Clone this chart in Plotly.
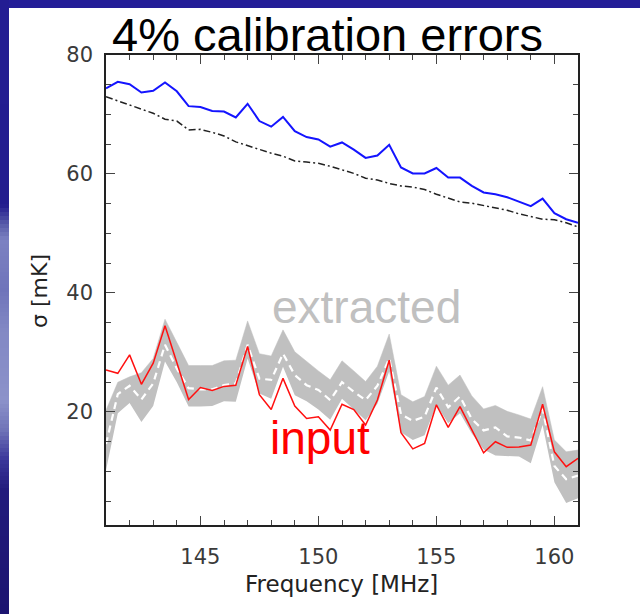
import plotly.graph_objects as go

# ---------------- data ----------------
freq = [141.0, 141.5, 142.0, 142.5, 143.0, 143.5, 144.0, 144.5, 145.0, 145.5,
        146.0, 146.5, 147.0, 147.5, 148.0, 148.5, 149.0, 149.5, 150.0, 150.5,
        151.0, 151.5, 152.0, 152.5, 153.0, 153.5, 154.0, 154.5, 155.0, 155.5,
        156.0, 156.5, 157.0, 157.5, 158.0, 158.5, 159.0, 159.5, 160.0, 160.5,
        161.0]

total_blue = [74.4, 75.5, 75.1, 73.7, 74.0, 75.4, 73.9, 71.4, 71.25, 70.6,
              70.5, 69.5, 71.8, 68.9, 67.95, 69.6, 67.2, 66.2, 65.8, 64.6,
              65.3, 64.1, 62.7, 63.1, 64.9, 61.1, 60.1, 60.1, 61.0, 59.4,
              59.4, 58.0, 56.9, 56.6, 56.1, 55.3, 54.6, 55.85, 53.4, 52.4,
              51.8]

foreground_dashdot = [72.99, 72.3, 71.5, 70.9, 70.2, 69.2, 68.9, 67.4, 67.5, 67.0,
                      66.4, 65.4, 64.75, 64.2, 63.5, 63.0, 62.2, 62.0, 61.8, 61.3,
                      60.75, 60.1, 59.3, 59.0, 58.4, 58.0, 57.8, 57.4, 56.6, 56.0,
                      55.3, 55.1, 54.7, 54.2, 53.9, 53.3, 52.8, 52.4, 52.3, 51.8,
                      51.1]

input_red = [27.05, 26.5, 29.6, 24.65, 28.2, 34.5, 28.3, 22.1, 24.1, 23.6,
             24.3, 24.5, 31.0, 22.9, 20.4, 25.65, 21.0, 18.9, 19.2, 16.95,
             21.3, 20.4, 17.8, 22.0, 28.7, 16.5, 13.8, 14.7, 21.2, 17.4,
             20.9, 17.0, 13.15, 15.0, 14.05, 14.1, 14.45, 21.3, 13.3, 10.8,
             12.2]

extracted_upper = [20.3, 25.0, 25.9, 26.6, 29.0, 35.6, 31.7, 27.8, 27.8, 27.8,
                   28.6, 28.7, 35.3, 29.8, 29.4, 33.8, 30.1, 28.45, 26.9, 25.4,
                   28.6, 26.9, 25.1, 27.7, 33.1, 22.9, 21.7, 22.6, 27.7, 24.5,
                   26.2, 22.7, 20.5, 21.1, 20.1, 19.5, 18.8, 24.25, 15.3, 13.3,
                   13.6]

extracted_lower = [10.2, 19.8, 21.5, 18.3, 21.0, 28.5, 25.0, 20.9, 20.9, 21.0,
                   21.8, 21.7, 29.0, 23.1, 22.2, 27.6, 22.8, 21.8, 20.4, 18.7,
                   22.2, 20.4, 18.6, 21.4, 26.8, 16.6, 15.3, 16.1, 21.2, 18.1,
                   19.8, 16.4, 13.7, 12.7, 12.6, 12.5, 11.4, 17.8, 8.2, 4.7,
                   5.5]

extracted_mean = [14.6, 23.0, 24.4, 22.1, 24.8, 31.3, 27.3, 24.0, 23.8, 23.8,
                  24.5, 24.8, 31.3, 25.6, 25.4, 29.8, 26.2, 24.5, 23.7, 22.0,
                  25.0, 23.4, 22.0, 24.4, 29.0, 19.6, 18.5, 19.2, 24.1, 20.8,
                  22.6, 18.8, 16.9, 17.4, 15.9, 15.7, 15.2, 20.5, 10.9, 8.7,
                  9.3]

title_text = "4% calibration errors"
x_title = "Frequency [MHz]"
y_title = "σ [mK]"
label_extracted = "extracted"
label_input = "input"

# ---------------- layout geometry ----------------
W, H = 640, 614
L, R, T, B = 106, 62, 55, 89
PW, PH = W - L - R, H - T - B


def xp(px):
    return (px - L) / PW


def yp(py):
    return (H - B - py) / PH


fig = go.Figure()

# gray band (extracted range)
fig.add_trace(go.Scatter(x=freq, y=extracted_lower, mode="lines",
                         line=dict(width=0, color="#c0c0c0"),
                         showlegend=False, hoverinfo="skip"))
fig.add_trace(go.Scatter(x=freq, y=extracted_upper, mode="lines",
                         line=dict(width=0.5, color="#c0c0c0"),
                         fill="tonexty", fillcolor="#c0c0c0",
                         showlegend=False))
# white dashed mean
fig.add_trace(go.Scatter(x=freq, y=extracted_mean, mode="lines",
                         line=dict(width=2.2, color="white", dash="7px,5px"),
                         showlegend=False))
# red input
fig.add_trace(go.Scatter(x=freq, y=input_red, mode="lines",
                         line=dict(width=1.5, color="#ff1010"),
                         showlegend=False))
# black dash-dot
fig.add_trace(go.Scatter(x=freq, y=foreground_dashdot, mode="lines",
                         line=dict(width=1.5, color="#222222",
                                   dash="7px,3px,2px,3px"),
                         showlegend=False))
# blue total
fig.add_trace(go.Scatter(x=freq, y=total_blue, mode="lines",
                         line=dict(width=2, color="#1414ff"),
                         showlegend=False))

# ---------------- background (slide frame) ----------------
shapes = []
# top stripe
shapes.append(dict(type="rect", xref="paper", yref="paper",
                   x0=xp(0), x1=xp(W), y0=yp(8), y1=yp(0),
                   fillcolor="#241e98", line=dict(width=0), layer="below"))
# left stripe with vertical gradient
stops = [(0, (0x23, 0x1d, 0x93)), (205, (0x22, 0x1c, 0x8e)),
         (225, (0x5a, 0x5e, 0xaa)), (240, (0x7d, 0x82, 0xc2)),
         (290, (0x6f, 0x74, 0xba)), (330, (0x82, 0x88, 0xc4)),
         (400, (0x8c, 0x92, 0xca)), (430, (0x70, 0x74, 0xb8)),
         (460, (0x3a, 0x36, 0x9a)), (490, (0x22, 0x1b, 0x7c)),
         (614, (0x1c, 0x14, 0x70))]


def col_at(y):
    for (y0, c0), (y1, c1) in zip(stops[:-1], stops[1:]):
        if y0 <= y <= y1:
            t = (y - y0) / (y1 - y0)
            return "rgb(%d,%d,%d)" % tuple(round(a + (b - a) * t) for a, b in zip(c0, c1))
    return "rgb(%d,%d,%d)" % stops[-1][1]


step = 4
for y in range(0, H, step):
    shapes.append(dict(type="rect", xref="paper", yref="paper",
                       x0=xp(0), x1=xp(9), y0=yp(min(y + step + 0.5, H)), y1=yp(y),
                       fillcolor=col_at(y + step / 2), line=dict(width=0),
                       layer="below"))

tick_font = dict(family="DejaVu Sans", size=21, color="#3a3a3a")

fig.update_layout(
    width=W, height=H,
    margin=dict(l=L, r=R, t=T, b=B, pad=0),
    paper_bgcolor="white", plot_bgcolor="white",
    shapes=shapes,
    showlegend=False,
    xaxis=dict(range=[141, 161], tick0=145, dtick=5,
               ticks="inside", ticklen=9, tickwidth=1, tickcolor="#444",
               minor=dict(ticks="inside", dtick=1, ticklen=5, tickwidth=1,
                          tickcolor="#444", showgrid=False),
               showline=True, linecolor="#222", linewidth=1.5, mirror="ticks",
               showgrid=False, zeroline=False, tickfont=tick_font,
               ticklabelstandoff=12, automargin=False),
    yaxis=dict(range=[1, 80], tick0=0, dtick=20,
               ticks="inside", ticklen=9, tickwidth=1, tickcolor="#444",
               minor=dict(ticks="inside", dtick=5, ticklen=5, tickwidth=1,
                          tickcolor="#444", showgrid=False),
               showline=True, linecolor="#222", linewidth=1.5, mirror="ticks",
               showgrid=False, zeroline=False, tickfont=tick_font,
               ticklabelstandoff=7, automargin=False),
)

annotations = [
    dict(text=title_text, xref="paper", yref="paper", x=xp(327), y=yp(35),
         xanchor="center", yanchor="middle", showarrow=False,
         font=dict(family="Liberation Sans", size=47, color="black")),
    dict(text=x_title, xref="paper", yref="paper", x=xp(341), y=yp(584),
         xanchor="center", yanchor="middle", showarrow=False,
         font=dict(family="DejaVu Sans", size=23, color="#222")),
    dict(text=y_title, xref="paper", yref="paper", x=xp(39), y=yp(291),
         xanchor="center", yanchor="middle", showarrow=False, textangle=-90,
         font=dict(family="DejaVu Sans", size=22, color="#222")),
    dict(text=label_extracted, xref="paper", yref="paper", x=xp(366), y=yp(307),
         xanchor="center", yanchor="middle", showarrow=False,
         font=dict(family="Liberation Sans", size=46, color="#c0c0c0")),
    dict(text=label_input, xref="paper", yref="paper", x=xp(320), y=yp(438),
         xanchor="center", yanchor="middle", showarrow=False,
         font=dict(family="Liberation Sans", size=46, color="#ff0000")),
]
fig.update_layout(annotations=annotations)

fig.write_html("out.html")
